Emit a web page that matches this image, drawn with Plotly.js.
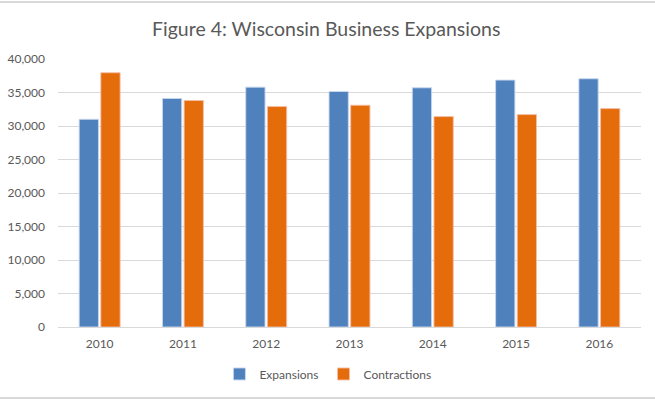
<!DOCTYPE html>
<html>
<head>
<meta charset="utf-8">
<script src="https://cdn.plot.ly/plotly-3.0.1.min.js"></script>
<style>
html,body{margin:0;padding:0;background:#fff;}
#wrap{position:relative;width:655px;height:399px;}
#chart{width:655px;height:399px;}
.hl{position:absolute;left:0;width:655px;height:2px;background:#d9d9d9;}
</style>
</head>
<body>
<div id="wrap">
<div id="chart"></div>
<div class="hl" style="top:1px"></div>
<div class="hl" style="top:397px"></div>
</div>
<script>
const years = ['2010','2011','2012','2013','2014','2015','2016'];
const expansions = [31000, 34100, 35800, 35150, 35700, 36850, 37050];
const contractions = [37950, 33800, 32900, 33100, 31400, 31700, 32600];
const yTickVals = [0,5000,10000,15000,20000,25000,30000,35000,40000];
const yTickText = ['0','5,000','10,000','15,000','20,000','25,000','30,000','35,000','40,000'];

const traces = [
  {type:'bar', name:'Expansions', x:years, y:expansions,
   marker:{color:'#4f81bd', line:{color:'rgba(200,215,240,0.9)', width:1}}, hoverinfo:'none'},
  {type:'bar', name:'Contractions', x:years, y:contractions,
   marker:{color:'#e46c0a', line:{color:'rgba(245,190,170,0.9)', width:1}}, hoverinfo:'none'}
];

const layout = {
  width:655, height:399,
  margin:{l:58, r:14, t:59, b:72},
  paper_bgcolor:'#fff', plot_bgcolor:'#fff',
  barmode:'group', bargap:0.48, bargroupgap:0.11,
  font:{family:'Lato, "Open Sans", sans-serif', color:'#595959', size:12},
  title:{text:'Figure 4: Wisconsin Business Expansions', x:0.498, xref:'container', xanchor:'center',
         y:0.927, yref:'container', yanchor:'middle',
         font:{family:'Lato, "Open Sans", sans-serif', size:19.5, color:'#595959'}},
  xaxis:{type:'category', showgrid:false, showline:true, linecolor:'#d9d9d9', linewidth:1,
         ticks:'', ticklabelstandoff:6, tickfont:{size:12, color:'#595959'}, zeroline:false, fixedrange:true},
  yaxis:{range:[0,40000], tickvals:yTickVals, ticktext:yTickText, showgrid:true,
         gridcolor:'#d9d9d9', gridwidth:1, zeroline:false, showline:false, ticks:'',
         ticklabelstandoff:12, tickfont:{size:12, color:'#595959'}, fixedrange:true},
  legend:{orientation:'h', x:0.463, xanchor:'center', y:0.0627, yref:'container', yanchor:'middle',
          font:{size:12, color:'#595959'}, itemwidth:30, traceorder:'normal'},
  showlegend:true
};

Plotly.newPlot('chart', traces, layout, {displayModeBar:false, staticPlot:true});
</script>
</body>
</html>
